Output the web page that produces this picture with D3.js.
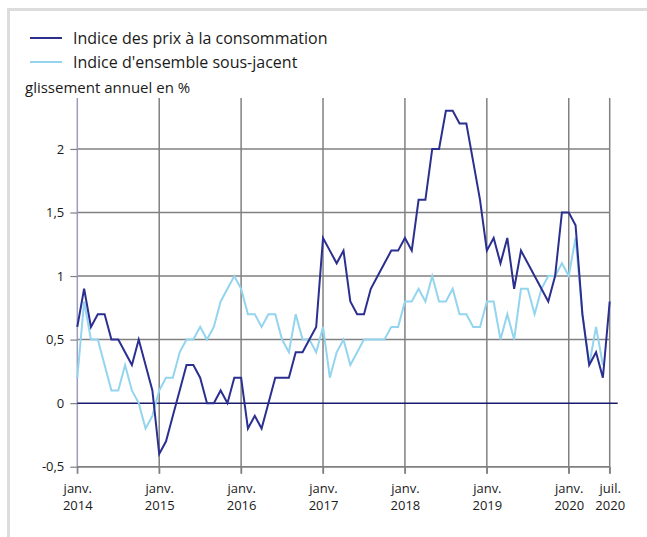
<!DOCTYPE html>
<html>
<head>
<meta charset="utf-8">
<script src="https://cdn.jsdelivr.net/npm/d3@7"></script>
<style>
  body { margin: 0; background: #fff; }
  #chart { width: 647px; height: 537px; }
  text { font-family: "Open Sans", sans-serif; fill: #1a1a1a; }
</style>
</head>
<body>
<div id="chart"></div>
<script>
// monthly, janv. 2014 -> juil. 2020
const startYear = 2014;
const ipc = [
  0.6, 0.9, 0.6, 0.7, 0.7, 0.5, 0.5, 0.4, 0.3, 0.5, 0.3, 0.1,
  -0.4, -0.3, -0.1, 0.1, 0.3, 0.3, 0.2, 0.0, 0.0, 0.1, 0.0, 0.2,
  0.2, -0.2, -0.1, -0.2, 0.0, 0.2, 0.2, 0.2, 0.4, 0.4, 0.5, 0.6,
  1.3, 1.2, 1.1, 1.2, 0.8, 0.7, 0.7, 0.9, 1.0, 1.1, 1.2, 1.2,
  1.3, 1.2, 1.6, 1.6, 2.0, 2.0, 2.3, 2.3, 2.2, 2.2, 1.9, 1.6,
  1.2, 1.3, 1.1, 1.3, 0.9, 1.2, 1.1, 1.0, 0.9, 0.8, 1.0, 1.5,
  1.5, 1.4, 0.7, 0.3, 0.4, 0.2, 0.8
];
const sousJacent = [
  0.2, 0.8, 0.5, 0.5, 0.3, 0.1, 0.1, 0.3, 0.1, 0.0, -0.2, -0.1,
  0.1, 0.2, 0.2, 0.4, 0.5, 0.5, 0.6, 0.5, 0.6, 0.8, 0.9, 1.0,
  0.9, 0.7, 0.7, 0.6, 0.7, 0.7, 0.5, 0.4, 0.7, 0.5, 0.5, 0.4,
  0.6, 0.2, 0.4, 0.5, 0.3, 0.4, 0.5, 0.5, 0.5, 0.5, 0.6, 0.6,
  0.8, 0.8, 0.9, 0.8, 1.0, 0.8, 0.8, 0.9, 0.7, 0.7, 0.6, 0.6,
  0.8, 0.8, 0.5, 0.7, 0.5, 0.9, 0.9, 0.7, 0.9, 1.0, 1.0, 1.1,
  1.0, 1.3, 0.7, 0.3, 0.6, 0.3
];
const xTickIdx = [0, 12, 24, 36, 48, 60, 72, 78];
const xTickLabels = [
  ["janv.", "2014"], ["janv.", "2015"], ["janv.", "2016"], ["janv.", "2017"],
  ["janv.", "2018"], ["janv.", "2019"], ["janv.", "2020"], ["juil.", "2020"]
];
const yTicks = [-0.5, 0, 0.5, 1, 1.5, 2];
const seriesNames = ["Indice des prix à la consommation", "Indice d'ensemble sous-jacent"];
const colors = ["#2b2f8f", "#93d4ef"];

const W = 647, H = 537;
const svg = d3.select("#chart").append("svg")
  .attr("width", W).attr("height", H);

// light frame (top + left)
svg.append("rect").attr("x", 7).attr("y", 8).attr("width", W - 7).attr("height", 3).attr("fill", "#dcdcdc");
svg.append("rect").attr("x", 7).attr("y", 8).attr("width", 3).attr("height", H - 8).attr("fill", "#dcdcdc");

const x = d3.scaleLinear().domain([0, 78]).range([77.3, 609.7]);
const y = d3.scaleLinear().domain([-0.5, 2.4]).range([466.7, 98.1]);

const fmt = d => String(d).replace(".", ",");

// horizontal grid
svg.append("g").selectAll("line")
  .data(yTicks.filter(d => d !== 0)).enter().append("line")
  .attr("x1", x(0)).attr("x2", x(78))
  .attr("y1", d => y(d)).attr("y2", d => y(d))
  .attr("stroke", "#808080").attr("stroke-width", 1.5);

// vertical grid
svg.append("g").selectAll("line")
  .data(xTickIdx.slice(1)).enter().append("line")
  .attr("x1", d => x(d)).attr("x2", d => x(d))
  .attr("y1", y(2.4)).attr("y2", y(-0.5) + 7)
  .attr("stroke", "#808080").attr("stroke-width", 1.5);

// left axis
svg.append("g")
  .attr("transform", `translate(${x(0)},0)`)
  .call(d3.axisLeft(y).tickValues(yTicks).tickSize(7).tickPadding(6).tickFormat(fmt))
  .call(ax => ax.select(".domain").attr("stroke", "#9c9cc0").attr("stroke-width", 1.5)
    .attr("d", `M0,${y(2.4)}V${y(-0.5) + 7}`))
  .call(ax => ax.selectAll(".tick line").attr("stroke", "#808080").attr("stroke-width", 1.2))
  .call(ax => ax.selectAll("text")
    .style("font-family", "'Open Sans', sans-serif")
    .style("font-size", "13px").attr("fill", "#1a1a1a"));

// bottom axis
const xAxis = svg.append("g")
  .attr("transform", `translate(0,${y(-0.5)})`)
  .call(d3.axisBottom(x).tickValues(xTickIdx).tickSize(7).tickFormat(""))
  .call(ax => ax.select(".domain").attr("stroke", "#808080").attr("stroke-width", 1.5)
    .attr("d", `M${x(0)},0H${x(78)}`))
  .call(ax => ax.selectAll(".tick line").attr("stroke", "#808080").attr("stroke-width", 1.2));

xAxis.selectAll(".tick").each(function (d, i) {
  const t = d3.select(this).append("text")
    .attr("text-anchor", "middle")
    .attr("fill", "#1a1a1a")
    .style("font-size", "13px");
  t.append("tspan").attr("x", 0).attr("y", 26).text(xTickLabels[i][0]);
  t.append("tspan").attr("x", 0).attr("y", 43).text(xTickLabels[i][1]);
});

// zero line
svg.append("line")
  .attr("x1", x(0)).attr("x2", x(78) + 8)
  .attr("y1", y(0)).attr("y2", y(0))
  .attr("stroke", "#1a1a6e").attr("stroke-width", 1.5);

// series
const line = d3.line().x((d, i) => x(i)).y(d => y(d));
[sousJacent, ipc].forEach((vals, k) => {
  svg.append("path")
    .datum(vals)
    .attr("fill", "none")
    .attr("stroke", k === 0 ? colors[1] : colors[0])
    .attr("stroke-width", 2)
    .attr("d", line);
});

// legend
seriesNames.forEach((name, i) => {
  const ly = 38 + i * 24;
  svg.append("line")
    .attr("x1", 30).attr("x2", 62).attr("y1", ly).attr("y2", ly)
    .attr("stroke", colors[i]).attr("stroke-width", 2);
  svg.append("text")
    .attr("x", 73).attr("y", ly + 5.5)
    .style("font-size", "16px")
    .text(name);
});

svg.append("text")
  .attr("x", 25).attr("y", 93)
  .style("font-size", "15px")
  .text("glissement annuel en %");
</script>
</body>
</html>
